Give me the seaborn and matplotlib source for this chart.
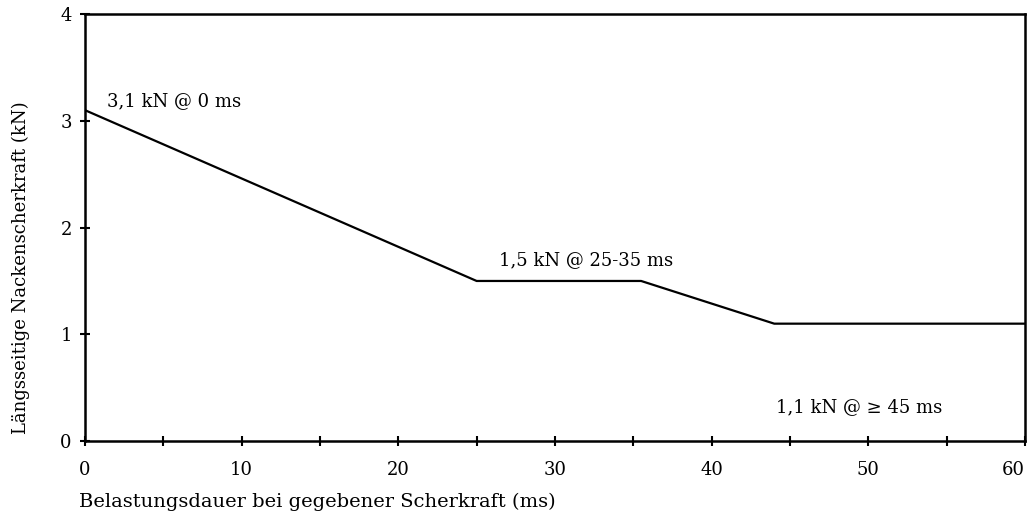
import pandas as pd
import matplotlib
matplotlib.use('Agg')
import matplotlib.pyplot as plt
import seaborn as sns


# knee points of the shear force limit curve
duration_ms = [0, 25, 35.5, 44, 60]
force_kn = [3.1, 1.5, 1.5, 1.1, 1.1]

x_ticks = [0, 10, 20, 30, 40, 50, 60]
y_ticks = [0, 1, 2, 3, 4]

labels = ['3,1 kN @ 0 ms', '1,5 kN @ 25-35 ms', '1,1 kN @ \u2265 45 ms']


def draw_chart():
    sns.set_style('ticks')
    plt.rcParams['font.family'] = ['DejaVu Serif', 'Liberation Serif']
    plt.rcParams['text.color'] = 'black'
    plt.rcParams['axes.labelcolor'] = 'black'

    df = pd.DataFrame({'dauer': duration_ms, 'kraft': force_kn})

    fig = plt.figure(figsize=(10.34, 5.22), dpi=100)
    ax = fig.add_axes([0.0822, 0.155, 0.909, 0.818])

    sns.lineplot(data=df, x='dauer', y='kraft', ax=ax,
                 color='black', linewidth=1.6)

    ax.set_xlim(0, 60)
    ax.set_ylim(0, 4)
    ax.set_xticks(x_ticks)
    ax.set_xticks(range(5, 60, 10), minor=True)
    ax.set_yticks(y_ticks)
    ax.tick_params(axis='both', which='both', direction='inout',
                   length=7, width=1.5, color='black',
                   labelsize=13, labelcolor='black')
    ax.tick_params(axis='x', pad=11)
    ax.tick_params(axis='y', pad=6)
    # keep the last tick label inside the picture
    ax.get_xticklabels()[-1].set_ha('right')

    for spine in ax.spines.values():
        spine.set_visible(True)
        spine.set_linewidth(1.8)
        spine.set_color('black')

    ax.text(1.4, 3.19, labels[0], fontsize=13, va='center')
    ax.text(26.4, 1.70, labels[1], fontsize=13, va='center')
    ax.text(44.1, 0.32, labels[2], fontsize=13, va='center')

    ax.set_xlabel('Belastungsdauer bei gegebener Scherkraft (ms)',
                  fontsize=14, ha='left')
    ax.xaxis.set_label_coords(-0.006, -0.122)
    ax.set_ylabel('Längsseitige Nackenscherkraft (kN)', fontsize=13)
    ax.yaxis.set_label_coords(-0.058, 0.405)

    fig.savefig('out.png', dpi=100, facecolor='white')


if __name__ == '__main__':
    draw_chart()
